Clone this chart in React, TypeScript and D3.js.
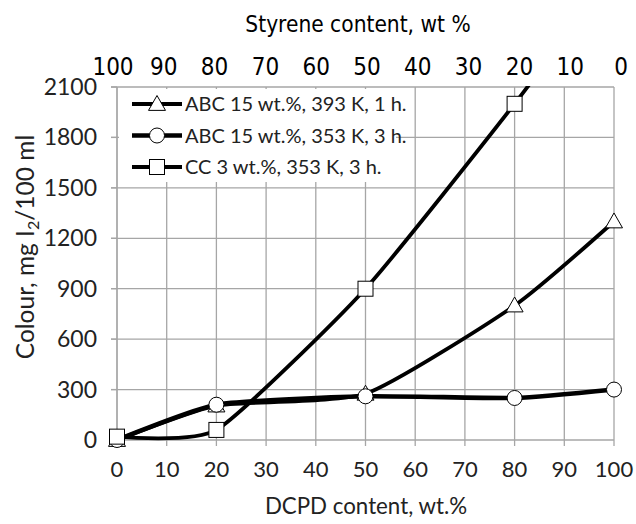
import React from "react";
import * as d3 from "d3";

const dcpd = [0, 20, 50, 80, 100];
const seriesNames = [
  "ABC 15 wt.%, 393 K, 1 h.",
  "ABC 15 wt.%, 353 K, 3 h.",
  "CC 3 wt.%, 353 K, 3 h.",
];
const abc393 = [0, 205, 275, 800, 1300];
const abc353 = [0, 210, 260, 250, 300];
const cc353 = [20, 60, 900, 2000, 2800];
const markers = ["triangle", "circle", "square"];
const bottomTicks = [0, 10, 20, 30, 40, 50, 60, 70, 80, 90, 100];
const topTicks = [100, 90, 80, 70, 60, 50, 40, 30, 20, 10, 0];
const yTicks = [0, 300, 600, 900, 1200, 1500, 1800, 2100];

const W = 636;
const H = 524;
const L = 117, R = 614, T = 87, B = 440;

const calibri = "Lato, 'Open Sans', sans-serif";
const narrow = "'Liberation Sans Narrow', 'DejaVu Sans Condensed', 'Liberation Sans', sans-serif";

function Marker({ kind, x, y }: { kind: string; x: number; y: number }) {
  if (kind === "triangle") {
    const s = 8.5;
    const p = `M${x},${y - s} L${x + s},${y + s * 0.75} L${x - s},${y + s * 0.75} Z`;
    return <path d={p} fill="white" stroke="#000" strokeWidth={1} />;
  }
  if (kind === "circle") {
    return <circle cx={x} cy={y} r={7.5} fill="white" stroke="#000" strokeWidth={1} />;
  }
  return <rect x={x - 7.5} y={y - 7.5} width={15} height={15} fill="white" stroke="#000" strokeWidth={1} />;
}

export default function App() {
  const x = d3.scaleLinear().domain([0, 100]).range([L, R]);
  const xTop = d3.scaleLinear().domain([100, 0]).range([113, 621]);
  const y = d3.scaleLinear().domain([0, 2100]).range([B, T]);
  const data = [abc393, abc353, cc353];
  const widths = [3.8, 4.6, 3.8];
  const line = d3
    .line<number>()
    .x((_, i) => x(dcpd[i]))
    .y((d) => y(d))
    .curve(d3.curveCardinal.tension(0.45));

  return (
    <svg width={W} height={H} style={{ position: "absolute", left: 0, top: 0 }}>
      <defs>
        <clipPath id="plot">
          <rect x={L} y={T - 1} width={R - L + 2} height={B - T + 2} />
        </clipPath>
      </defs>
      <rect width={W} height={H} fill="white" />
      {bottomTicks.map((t) => (
        <line key={"gx" + t} x1={x(t)} x2={x(t)} y1={T} y2={B + 6} stroke="#a6a6a6" strokeWidth={1.3} />
      ))}
      {yTicks.map((t) => (
        <line key={"gy" + t} x1={L - 6} x2={R} y1={y(t)} y2={y(t)} stroke="#a6a6a6" strokeWidth={1.3} />
      ))}
      <rect x={119} y={89} width={277} height={93} fill="white" />
      <line x1={L} x2={L} y1={T} y2={B} stroke="#a6a6a6" strokeWidth={1.3} />
      {yTicks.map((t) => (
        <line key={"yt" + t} x1={L - 6} x2={L} y1={y(t)} y2={y(t)} stroke="#a6a6a6" strokeWidth={1.3} />
      ))}
      <g clipPath="url(#plot)">
        {data.map((s, si) => (
          <path key={"l" + si} d={line(s) || ""} fill="none" stroke="#000" strokeWidth={widths[si]} />
        ))}
      </g>
      {data.map((s, si) =>
        s.map((v, i) =>
          v <= 2100 ? <Marker key={`m${si}-${i}`} kind={markers[si]} x={x(dcpd[i])} y={y(v)} /> : null
        )
      )}
      {yTicks.map((t) => (
        <text key={"yl" + t} x={97} y={y(t)} dy="0.35em" textAnchor="end" fontFamily={calibri} fontSize={23} fill="#222">
          {t}
        </text>
      ))}
      {bottomTicks.map((t) => (
        <text key={"bl" + t} x={x(t)} y={477} textAnchor="middle" fontFamily={calibri} fontSize={22} fill="#222">
          {t}
        </text>
      ))}
      <text x={366} y={514} textAnchor="middle" fontFamily={calibri} fontSize={22.3} fill="#222">
        DCPD content, wt.%
      </text>
      <text transform={`translate(34,247) rotate(-90)`} textAnchor="middle" fontFamily={calibri} fontSize={24.5} fill="#222">
        Colour, mg I<tspan fontSize={16} dy={5}>2</tspan><tspan dy={-5}>/100 ml</tspan>
      </text>
      {topTicks.map((t) => (
        <text key={"tl" + t} x={xTop(t)} y={75} textAnchor="middle" fontFamily={narrow} fontSize={24} fill="#000">
          {t}
        </text>
      ))}
      <text x={358} y={32} textAnchor="middle" fontFamily={narrow} fontSize={22.5} fill="#000">
        Styrene content, wt %
      </text>
      {seriesNames.map((n, i) => {
        const ly = 104 + i * 31.5;
        return (
          <g key={"lg" + i}>
            <line x1={132} x2={182} y1={ly} y2={ly} stroke="#000" strokeWidth={widths[i]} />
            <Marker kind={markers[i]} x={157} y={ly} />
            <text x={185} y={ly} dy="0.35em" fontFamily={calibri} fontSize={20} fill="#222">
              {n}
            </text>
          </g>
        );
      })}
    </svg>
  );
}
